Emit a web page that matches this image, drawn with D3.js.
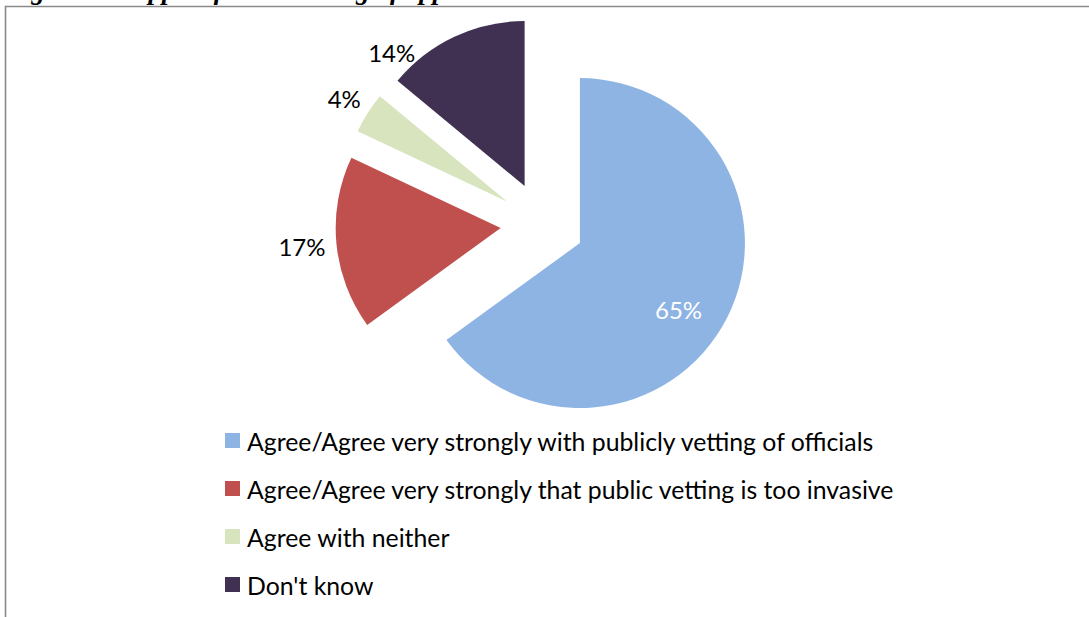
<!DOCTYPE html>
<html>
<head>
<meta charset="utf-8">
<script src="https://cdn.jsdelivr.net/npm/d3@7"></script>
<style>
  html, body { margin: 0; padding: 0; background: #fff; overflow: hidden; }
  text { font-family: Lato, "Open Sans", sans-serif; }
</style>
</head>
<body>
<svg id="chart" width="1089" height="617"></svg>
<script>
// Survey responses on public vetting of officials (percent of respondents)
const categories = [
  "Agree/Agree very strongly with publicly vetting of officials",
  "Agree/Agree very strongly that public vetting is too invasive",
  "Agree with neither",
  "Don't know"
];
const values = [65, 17, 4, 14];
const colors = ["#8EB4E3", "#C0504D", "#D7E4BD", "#403152"];
const labelColors = ["#ffffff", "#000000", "#000000", "#000000"];
const title = "Figure 4: Support for the vetting of appointees";

const W = 1089, H = 617;
const svg = d3.select("#chart");

// Caption of the figure (runs off the top edge of the page)
svg.append("text")
  .attr("x", 6).attr("y", -1)
  .style("font-family", "'Liberation Serif', serif")
  .attr("font-style", "italic")
  .attr("font-weight", "bold")
  .attr("font-size", 27)
  .attr("fill", "#000")
  .text(title);

// Frame around the chart area
svg.append("path")
  .attr("d", `M5.5,${H} V6.5 H${W}`)
  .attr("fill", "none")
  .attr("stroke", "#8a8a8a")
  .attr("stroke-width", 1.6);

// Pie geometry
const cx = 542.5, cy = 224, R = 165, explode = 42;
const plotTop = 43, labelGap = 11, fontSize = 24, legendFontSize = 24.8;

const data = categories.map((c, i) => ({ category: c, value: values[i], color: colors[i], labelColor: labelColors[i] }));
const pie = d3.pie().sort(null).value(d => d.value).startAngle(0).endAngle(2 * Math.PI);
const arcs = pie(data);
const arc = d3.arc().innerRadius(0).outerRadius(R);
const dir = a => [Math.sin(a), -Math.cos(a)];

const g = svg.append("g").attr("transform", `translate(${cx},${cy})`);

// Every slice is pulled out from the centre along its bisector
const sliceGroups = g.selectAll("g.slice")
  .data(arcs)
  .join("g")
  .attr("class", "slice")
  .attr("transform", d => {
    const m = (d.startAngle + d.endAngle) / 2;
    const [dx, dy] = dir(m);
    return `translate(${dx * explode},${dy * explode})`;
  });

sliceGroups.append("path")
  .attr("d", arc)
  .attr("fill", d => d.data.color);

// Data labels: inside for the dominant slice, outside for the others
sliceGroups.each(function (d) {
  const grp = d3.select(this);
  const m = (d.startAngle + d.endAngle) / 2;
  const t = grp.append("text")
    .attr("font-size", fontSize)
    .attr("fill", d.data.labelColor)
    .attr("text-anchor", "middle")
    .attr("dominant-baseline", "central")
    .text(d.data.value + "%");
  if (d.value > 50) {
    // inside label, set slightly past the bisector toward the lower edge
    const [dx, dy] = dir(m + 0.12);
    t.attr("x", dx * R * 0.72).attr("y", dy * R * 0.72);
    return;
  }
  const bb = t.node().getBBox();
  const hw = bb.width / 2, hh = 9;
  const [ox, oy] = dir(m).map(v => v * explode);
  const place = a => {
    const [dx, dy] = dir(a);
    const ext = Math.min(Math.abs(dx) > 1e-6 ? hw / Math.abs(dx) : Infinity,
                         Math.abs(dy) > 1e-6 ? hh / Math.abs(dy) : Infinity);
    const dist = R + labelGap + ext;
    return [dx * dist, dy * dist];
  };
  let a = m, p = place(a);
  // keep the label inside the plot area by sliding it round the slice
  while (cy + oy + p[1] - hh < plotTop && a > d.startAngle - Math.PI / 2) {
    a -= 0.002;
    p = place(a);
  }
  t.attr("x", p[0]).attr("y", p[1]);
});

// Legend
const legendX = 225, box = 15;
const ly = d3.scalePoint().domain(categories).range([440.5, 584.5]);
const legend = svg.append("g").selectAll("g")
  .data(data)
  .join("g")
  .attr("transform", d => `translate(${legendX},${ly(d.category)})`);
legend.append("rect")
  .attr("x", 0).attr("y", -box / 2)
  .attr("width", box).attr("height", box)
  .attr("fill", d => d.color);
legend.append("text")
  .attr("x", 22).attr("y", 1)
  .attr("font-size", legendFontSize)
  .attr("dominant-baseline", "central")
  .attr("fill", "#000")
  .text(d => d.category);
</script>
</body>
</html>
